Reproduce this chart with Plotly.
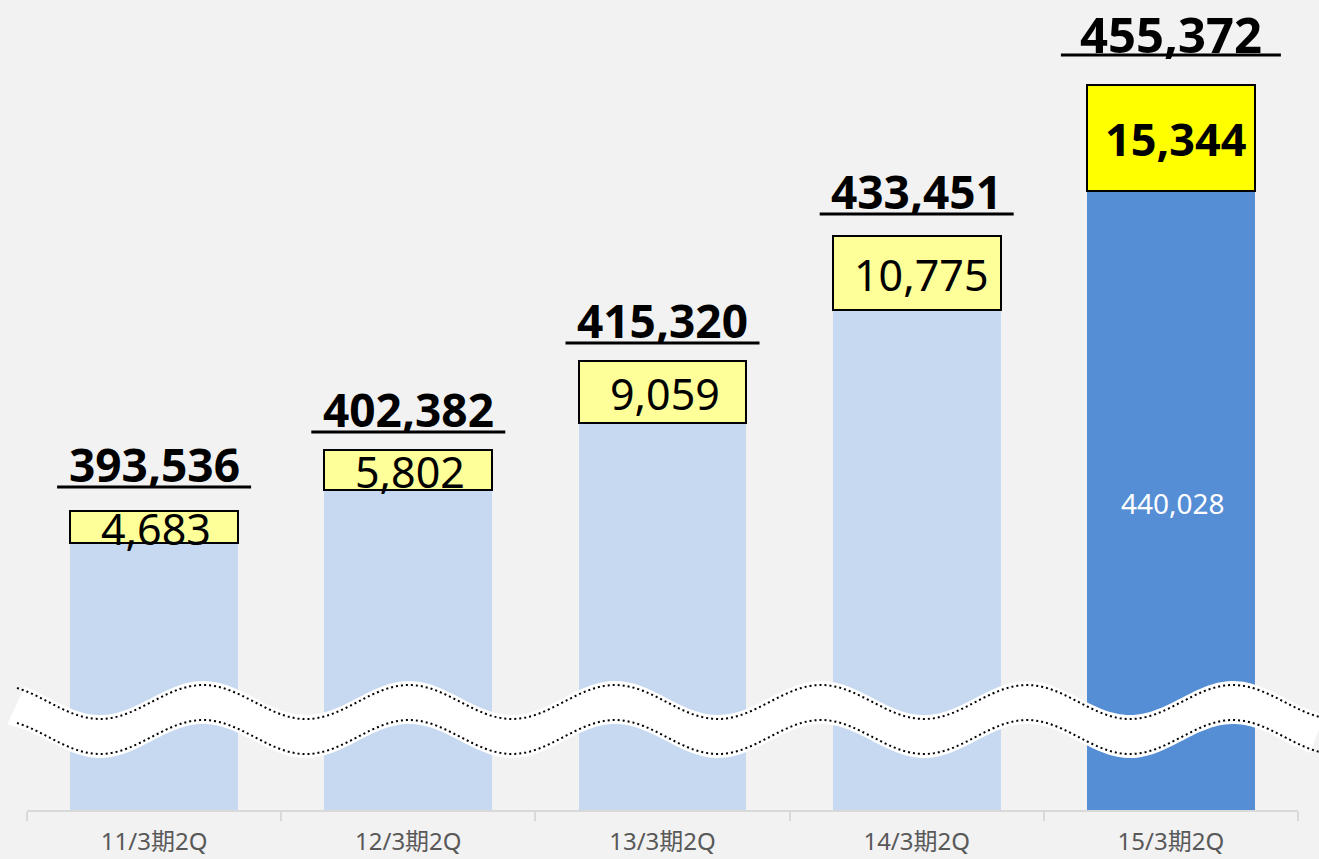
import numpy as np
import plotly.graph_objects as go

# ---- data ----
categories = ["11/3期2Q", "12/3期2Q", "13/3期2Q", "14/3期2Q", "15/3期2Q"]
totals = [393536, 402382, 415320, 433451, 455372]
increments = [4683, 5802, 9059, 10775, 15344]
bases = [t - d for t, d in zip(totals, increments)]  # 388853 ... 440028

# ---- style ----
W, H = 1319, 859
ML, MR, MT, MB = 27, 21, 0, 49
PW, PH = W - ML - MR, H - MT - MB
base_colors = ["#C6D9F1", "#C6D9F1", "#C6D9F1", "#C6D9F1", "#558ED5"]
inc_colors = ["#FFFF99", "#FFFF99", "#FFFF99", "#FFFF99", "#FFFF00"]
underline_gap = [24, 18, 18, 22, 30]   # px above bar top
underline_half = [97, 97, 97, 97, 110]
top_font = [46, 46, 46, 46, 49]
top_shift = [23, 23, 23, 23, 21]
FONT = "Noto Sans, Noto Sans CJK JP, sans-serif"

x = list(range(len(categories)))

fig = go.Figure()
fig.add_trace(go.Bar(x=x, y=bases, width=0.66, marker=dict(color=base_colors, line=dict(width=0)),
                     hoverinfo="skip"))
fig.add_trace(go.Bar(x=x, y=increments, width=0.66,
                     marker=dict(color=inc_colors, line=dict(color="black", width=2)),
                     hoverinfo="skip"))

annotations = []
shapes = []
for i in x:
    g = underline_gap[i]
    shapes.append(dict(type="line", xref="x", yref="y", xsizemode="pixel", ysizemode="pixel",
                       xanchor=i, yanchor=totals[i], x0=-underline_half[i], x1=underline_half[i],
                       y0=g, y1=g, line=dict(color="black", width=3), layer="above"))
    annotations.append(dict(x=i, y=totals[i], xref="x", yref="y", text=f"<b>{totals[i]:,}</b>",
                            showarrow=False, yanchor="middle", yshift=g + top_shift[i],
                            font=dict(family=FONT, size=top_font[i], color="black")))
    inc_txt = f"{increments[i]:,}"
    if i == 4:
        inc_txt = f"<b>{inc_txt}</b>"
    annotations.append(dict(x=i, y=bases[i] + increments[i] / 2, xref="x", yref="y", text=inc_txt,
                            showarrow=False, yanchor="middle", xshift=5 if i >= 3 else 2,
                            yshift=-1,
                            font=dict(family=FONT, size=45 if i == 4 else 43, color="black")))

annotations.append(dict(x=4, y=bases[4], xref="x", yref="y", text=f"{bases[4]:,}", showarrow=False,
                        yanchor="middle", yshift=-312, xshift=2,
                        font=dict(family=FONT, size=28, color="white")))

# ---- axis-break wave band (decoration, pixel geometry) ----
def px2paper(px, py):
    return (px - ML) / PW, (MT + PH - py) / PH

def top_line(xx):
    return 702 - 17 * np.cos(2 * np.pi * (xx - 203) / 206)

def bot_line(xx):
    return 737 - 17 * np.cos(2 * np.pi * (xx - 203) / 206)

def path_from(pts, close=False):
    s = "M " + " L ".join(f"{a:.5f},{b:.5f}" for a, b in pts)
    return s + (" Z" if close else "")

band_x = np.linspace(25, 1325, 400)
upper = [px2paper(a, top_line(a) - 4) for a in band_x]
band_x2 = np.linspace(1310, 7, 400)
lower = [px2paper(a, bot_line(a) + 4) for a in band_x2]
shapes.append(dict(type="path", xref="paper", yref="paper", path=path_from(upper + lower, close=True),
                   fillcolor="white", line=dict(width=0), layer="above"))
xs = np.linspace(17, 1319, 400)
shapes.append(dict(type="path", xref="paper", yref="paper",
                   path=path_from([px2paper(a, top_line(a)) for a in xs]),
                   line=dict(color="black", width=2, dash="2px,3px"), layer="above"))
shapes.append(dict(type="path", xref="paper", yref="paper",
                   path=path_from([px2paper(a, bot_line(a)) for a in xs]),
                   line=dict(color="black", width=2, dash="2px,3px"), layer="above"))

fig.update_layout(
    width=W, height=H, margin=dict(l=ML, r=MR, t=MT, b=MB, autoexpand=False),
    paper_bgcolor="#F2F2F2", plot_bgcolor="#F2F2F2",
    barmode="stack", showlegend=False, bargap=0,
    annotations=annotations, shapes=shapes,
    xaxis=dict(range=[-0.5, 4.5], tickvals=x, ticktext=categories, ticks="", automargin=False,
               showgrid=False, zeroline=False, showline=True, linecolor="#D9D9D9", linewidth=2,
               tickfont=dict(family=FONT, size=24, color="#595959"), ticklabelstandoff=9,
               minor=dict(tickvals=[-0.5, 0.5, 1.5, 2.5, 3.5, 4.5], ticks="outside", ticklen=9,
                          tickcolor="#D9D9D9", tickwidth=2, showgrid=False),
               fixedrange=True),
    yaxis=dict(range=[350134, 467710], visible=False, fixedrange=True, automargin=False),
)

fig.write_html("out.html", config={"displayModeBar": False},
               post_script="document.body.style.margin='0';document.body.style.overflow='hidden';")
